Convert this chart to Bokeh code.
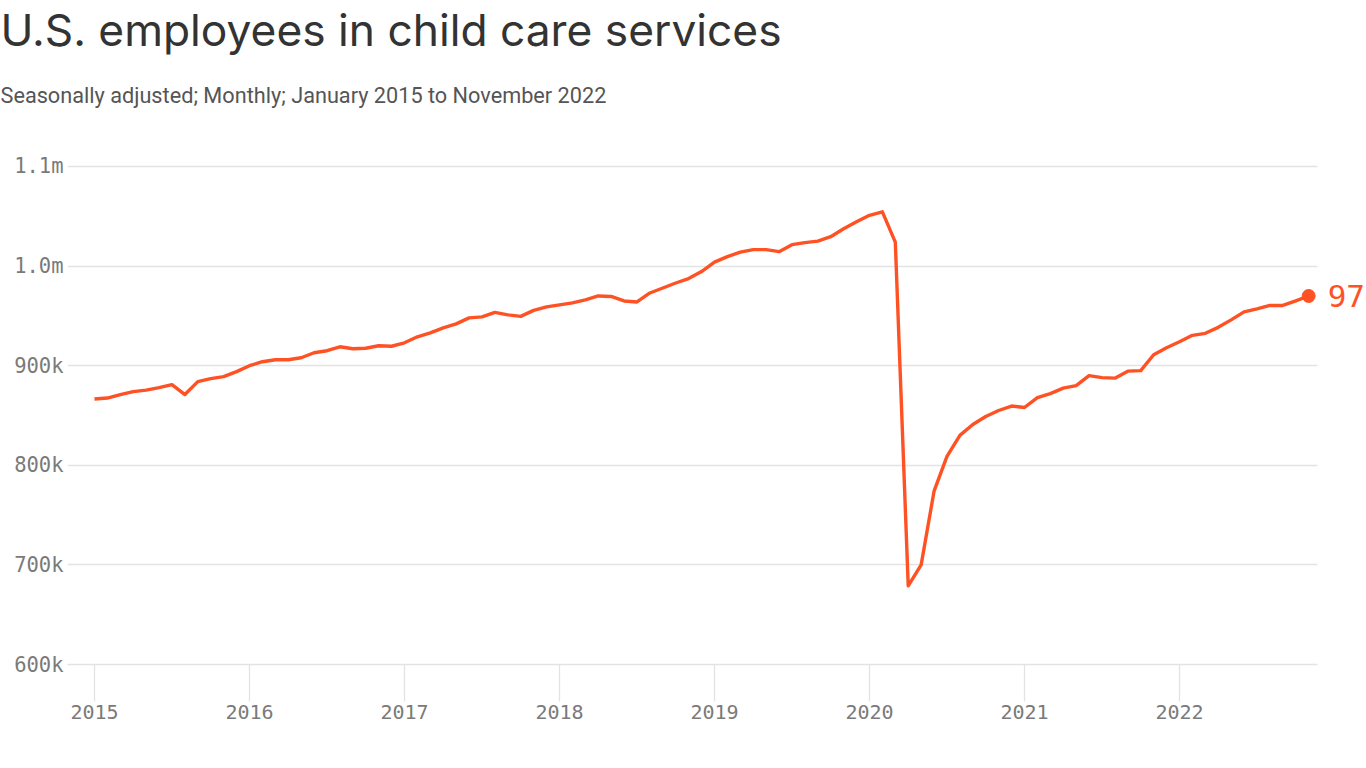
from bokeh.plotting import figure
from bokeh.models import Range1d, FixedTicker, Label, Title, BoxAnnotation
from bokeh.embed import file_html
from bokeh.resources import INLINE

# ---- data (monthly, Jan 2015 - Nov 2022), employees in thousands ----
years = [2015, 2016, 2017, 2018, 2019, 2020, 2021, 2022]
vals_2015 = [866.5, 867.5, 871, 874, 875.5, 878, 881, 871, 884, 887, 889, 894]
vals_2016 = [900, 904, 906, 906, 908, 913, 915, 919, 917, 917.5, 920, 919.5]
vals_2017 = [923, 929, 933, 938, 942, 948, 949, 953.5, 951, 949.5, 955.5, 959]
vals_2018 = [961, 963, 966, 970, 969.5, 965, 964, 973, 978, 983, 987.5, 994.5]
vals_2019 = [1004, 1009.5, 1014, 1016.5, 1016.5, 1014.5, 1021.5, 1023.5, 1025, 1029.5, 1037.5, 1044.5]
vals_2020 = [1051, 1054.5, 1024, 679, 700, 774, 809, 830, 841, 849, 855, 859.5]
vals_2021 = [858, 868, 872, 877.5, 880, 890, 888, 887.5, 894.5, 895, 911, 918]
vals_2022 = [924, 930.5, 932.5, 938.5, 946, 954, 957, 960.5, 960.5, 965, 970]

y_ticks = [600000, 700000, 800000, 900000, 1000000, 1100000]
y_tick_labels = ["600k", "700k", "800k", "900k", "1.0m", "1.1m"]
end_label = "970k"

title_text = "U.S. employees in child care services"
subtitle_text = "Seasonally adjusted; Monthly; January 2015 to November 2022"

# ---- build series ----
all_vals = vals_2015 + vals_2016 + vals_2017 + vals_2018 + vals_2019 + vals_2020 + vals_2021 + vals_2022
ys = [v * 1000 for v in all_vals]
xs = [2015 + i / 12 for i in range(len(ys))]

ORANGE = "#ff5224"
MONO = "DejaVu Sans Mono"
GRID = "#e3e3e3"

x_start, x_plot_end, x_canvas_end = 2014.826, 2022.890, 2023.2066

p = figure(width=1366, height=768, output_backend="svg", toolbar_location=None,
           x_range=Range1d(x_start, x_canvas_end), y_range=Range1d(600000, 1105000),
           min_border_left=67, min_border_right=0, min_border_top=161, min_border_bottom=104)
p.title.visible = False
p.outline_line_color = None
p.background_fill_color = "white"
p.border_fill_color = "white"

# grid
p.xgrid.grid_line_color = None
p.ygrid.grid_line_color = GRID
p.ygrid.grid_line_width = 1.3
p.ygrid.ticker = FixedTicker(ticks=y_ticks)

# hide grid beyond the plotting area on the right (area reserved for the end label)
p.add_layout(BoxAnnotation(left=x_plot_end, fill_color="white", fill_alpha=1.0,
                           line_color=None, level="underlay"))

# y axis
p.yaxis.ticker = FixedTicker(ticks=y_ticks)
p.yaxis.major_label_overrides = {t: l for t, l in zip(y_ticks, y_tick_labels)}
p.yaxis.axis_line_color = None
p.yaxis.major_tick_line_color = None
p.yaxis.minor_tick_line_color = None
p.yaxis.major_label_standoff = -2
p.yaxis.major_label_text_font = MONO
p.yaxis.major_label_text_font_size = "20.5px"
p.yaxis.major_label_text_color = "#7a7a7a"

# x axis
p.xaxis.ticker = FixedTicker(ticks=years)
p.xaxis.bounds = (x_start, x_plot_end)
p.xaxis.major_label_overrides = {y: str(y) for y in years}
p.xaxis.axis_line_color = GRID
p.xaxis.axis_line_width = 1.3
p.xaxis.major_tick_line_color = GRID
p.xaxis.major_tick_line_width = 1.3
p.xaxis.major_tick_out = 37
p.xaxis.major_tick_in = 0
p.xaxis.minor_tick_line_color = None
p.xaxis.major_label_standoff = 3
p.xaxis.major_label_text_font = MONO
p.xaxis.major_label_text_font_size = "20px"
p.xaxis.major_label_text_color = "#7a7a7a"

# line + end point
p.line(xs, ys, line_color=ORANGE, line_width=3.4, line_join="round")
p.scatter([xs[-1]], [ys[-1]], size=13, fill_color=ORANGE, line_color=ORANGE)

p.add_layout(Label(x=xs[-1], y=ys[-1], text=end_label, x_offset=19, text_baseline="middle",
                   text_font=MONO, text_font_size="31px", text_color=ORANGE))

# titles (stacked above the frame: spacer, subtitle, title)
p.add_layout(Title(text=" ", standoff=16, text_font="Inter", text_font_size="10px"), "above")
p.add_layout(Title(text=subtitle_text, align="left", offset=-67, standoff=47,
                   text_font="Roboto", text_font_size="21.7px", text_font_style="normal",
                   text_color="#555555"), "above")
p.add_layout(Title(text=title_text, align="left", offset=-67, standoff=1,
                   text_font="Inter", text_font_size="44.3px", text_font_style="normal",
                   text_color="#333333"), "above")

open("out.html", "w").write(file_html(p, INLINE))
